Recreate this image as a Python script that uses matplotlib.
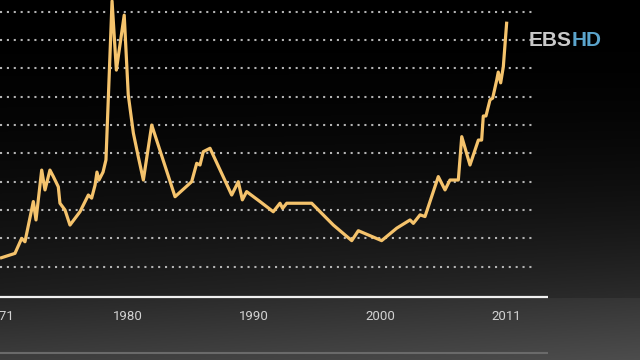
import numpy as np
import matplotlib
matplotlib.use("Agg")
import matplotlib.pyplot as plt

# ---- data ----
years = [1971.00, 1972.18, 1972.71, 1972.97, 1973.63, 1973.84, 1974.29, 1974.55,
         1974.94, 1975.21, 1975.60, 1975.73, 1976.13, 1976.52, 1977.31, 1977.97,
         1978.23, 1978.50, 1978.65, 1978.81, 1979.13, 1979.36, 1979.84, 1980.18,
         1980.80, 1981.12, 1981.52, 1981.91, 1982.31, 1982.97, 1984.81, 1986.12,
         1986.52, 1986.78, 1987.04, 1987.57, 1989.28, 1989.80, 1990.12, 1990.46,
         1991.51, 1992.56, 1993.09, 1993.30, 1993.62, 1995.59, 1997.30, 1998.75,
         1999.27, 2001.11, 2002.30, 2003.35, 2003.61, 2004.14, 2004.53, 2005.58,
         2006.11, 2006.50, 2007.16, 2007.43, 2008.08, 2008.74, 2009.00, 2009.13,
         2009.34, 2009.66, 2009.87, 2010.19, 2010.31, 2010.50, 2010.71, 2010.98]
values = [130, 147, 200, 188, 330, 265, 441, 371,
          441, 418, 382, 324, 300, 247, 294, 353,
          342, 388, 434, 406, 434, 477, 1038, 794,
          988, 706, 572, 488, 406, 600, 347, 400,
          465, 459, 506, 518, 353, 400, 336, 365,
          330, 294, 324, 306, 324, 324, 247, 192,
          227, 192, 236, 265, 253, 283, 277, 418,
          371, 406, 406, 559, 459, 547, 547, 632,
          632, 689, 695, 759, 787, 749, 806, 965]
grid_values = [100, 200, 300, 400, 500, 600, 700, 800, 900, 1000]
tick_labels = ["1971", "1980", "1990", "2000", "2011"]

# ---- layout helpers (pixel geometry of the 640x360 frame) ----
W, H = 640, 360
PX_PER_YEAR = 12.675
X0_YEAR = 1971.0
PX_PER_UNIT = 28.33 / 100.0
Y_GRID1 = 266.7  # pixel row of the value-100 gridline


def xv(px):
    return X0_YEAR + px / PX_PER_YEAR


def yv(py):
    return 100 + (Y_GRID1 - py) / PX_PER_UNIT


fig = plt.figure(figsize=(6.4, 3.6), dpi=100)
ax = fig.add_axes([0, 0, 1, 1])
ax.set_xlim(xv(0), xv(W))
ax.set_ylim(yv(H), yv(0))
ax.axis("off")

# background gradient
ys = np.linspace(0, 1, H)[:, None]
xs = np.linspace(0, 1, W)[None, :]
ypx = ys * H
upper = 0.12 * np.clip(ypx / 297.0, 0, 1) ** 2.0 + 0.05 * xs * np.clip(ypx / 297.0, 0, 1) ** 3
lower_t = np.clip((ypx - 298) / 62.0, 0, 1)
lower = 0.15 + 0.09 * lower_t + 0.06 * xs
g = np.where(ypx < 298, upper, lower)
img = np.dstack([g, g, g])
ax.imshow(img, extent=[0, 1, 0, 1], transform=ax.transAxes, aspect="auto",
          zorder=0, interpolation="bilinear")

# dotted gridlines
for gv in grid_values:
    ax.plot([xv(0), xv(533)], [gv, gv], color="#b4b4b4", lw=1.5,
            linestyle=(0, (1, 2.3)), dash_capstyle="butt", zorder=1)

# baseline and lower rule
ax.plot([xv(0), xv(548)], [yv(296.7), yv(296.7)], color="#f0f0f0", lw=1.6,
        solid_capstyle="butt", zorder=2)
ax.plot([xv(0), xv(548)], [yv(352.7), yv(352.7)], color="#6a6a6a", lw=1.5,
        solid_capstyle="butt", zorder=2)

# gold line
ax.plot(years, values, color="#f5c36c", lw=2.3, solid_joinstyle="round",
        solid_capstyle="butt", zorder=3, clip_on=True)

# tick labels (positions as in the frame; the first one is cut by the left edge as in the frame)
tick_px = [0, 128, 254, 380, 506]
for px, lab in zip(tick_px, tick_labels):
    ax.text(xv(px), yv(317), lab, color="#d2d2d2", fontsize=9.5,
            family="Roboto", ha="center", va="center", zorder=4)

# logo
fig.text(529 / W, 1 - 41 / H, "EBS", color="#c9c9c9", fontsize=15,
         family="Liberation Sans", weight="bold", ha="left", va="center")
fig.text(572 / W, 1 - 41 / H, "HD", color="#5ba4cc", fontsize=15,
         family="Liberation Sans", weight="bold", ha="left", va="center")

fig.savefig("out.png", dpi=100, facecolor="black")
